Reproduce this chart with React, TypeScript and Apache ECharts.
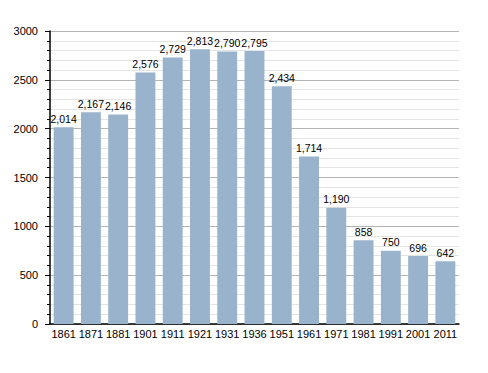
import React, { useEffect, useRef } from "react";
import * as echarts from "echarts";

const years = ["1861", "1871", "1881", "1901", "1911", "1921", "1931", "1936", "1951", "1961", "1971", "1981", "1991", "2001", "2011"];
const population = [2014, 2167, 2146, 2576, 2729, 2813, 2790, 2795, 2434, 1714, 1190, 858, 750, 696, 642];

const font = "Liberation Sans, Arial, sans-serif";

export default function App() {
  const ref = useRef<HTMLDivElement>(null);
  useEffect(() => {
    const chart = echarts.init(ref.current!, null, { renderer: "svg" });
    chart.setOption({
      animation: false,
      grid: { left: 50, right: 29, top: 31, bottom: 49, containLabel: false },
      xAxis: {
        type: "category",
        data: years,
        axisLine: { show: true, lineStyle: { color: "#000", width: 1.5 } },
        axisTick: { show: false },
        axisLabel: { color: "#000", fontSize: 11, fontFamily: font, margin: 4, interval: 0 },
      },
      yAxis: {
        type: "value",
        min: 0,
        max: 3000,
        interval: 500,
        axisLine: { show: true, lineStyle: { color: "#000", width: 1.5 } },
        axisTick: { show: true, length: 5, lineStyle: { color: "#000" } },
        minorTick: { show: true, splitNumber: 5, length: 3, lineStyle: { color: "#000" } },
        splitLine: { show: true, lineStyle: { color: "#b4b4b4", width: 1 } },
        minorSplitLine: { show: true, lineStyle: { color: "#e4e4e4", width: 1 } },
        axisLabel: { color: "#000", fontSize: 11, fontFamily: font, margin: 12, formatter: (v: number) => String(v) },
      },
      series: [
        {
          type: "bar",
          data: population,
          barCategoryGap: "27%",
          itemStyle: { color: "#9ab3cc" },
          label: {
            show: true,
            position: "top",
            distance: 3,
            color: "#000",
            fontSize: 10.5,
            fontFamily: font,
            formatter: (p: any) => p.value.toLocaleString("en-US"),
          },
        },
      ],
    });
    return () => chart.dispose();
  }, []);
  return <div ref={ref} style={{ width: 488, height: 373, position: "absolute", left: 0, top: 0, background: "#fff" }} />;
}
